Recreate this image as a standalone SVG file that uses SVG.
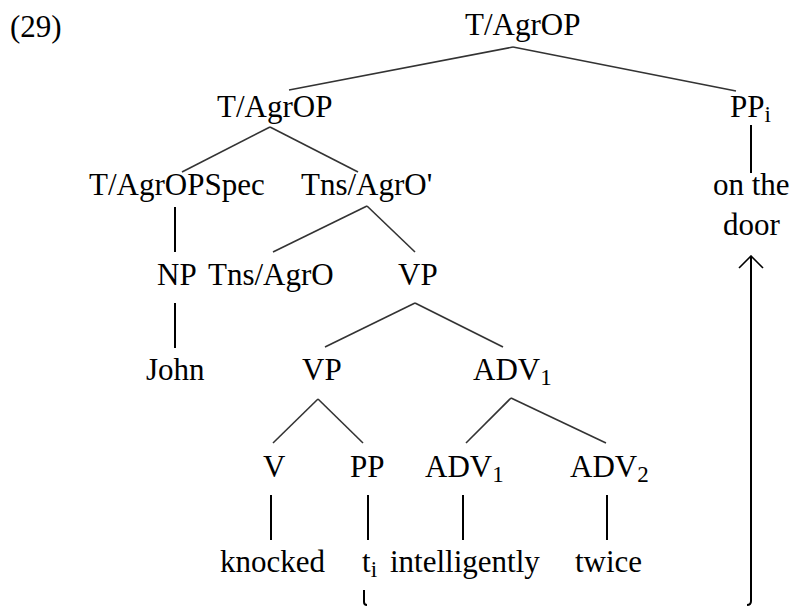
<svg xmlns="http://www.w3.org/2000/svg" width="793" height="607" viewBox="0 0 793 607">
<style>
  text { font-family: "Liberation Serif", "Times New Roman", serif; font-size: 31px; fill: #000; }
  .sub { font-size: 23px; }
  .edge { stroke: #333; stroke-width: 1.6; fill: none; }
  .vert { stroke: #000; stroke-width: 2; fill: none; }
  .move { stroke: #000; stroke-width: 2; fill: none; }
</style>
<defs>
  <marker id="arrow" viewBox="0 0 14 26" refX="13" refY="13" markerWidth="14" markerHeight="26" markerUnits="userSpaceOnUse" orient="auto">
    <path d="M1,1 L13,13 L1,25" fill="none" stroke="#000" stroke-width="1.6"/>
  </marker>
</defs>
<rect width="793" height="607" fill="#fff"/>
<text id="example-number" x="10" y="37">(29)</text>

<g id="connectors">
  <path class="edge" d="M513,47 L289,90"/>
  <path class="edge" d="M513,47 L736,91"/>
  <path class="edge" d="M270,127 L182,172"/>
  <path class="edge" d="M270,127 L358,172"/>
  <path class="vert" d="M751,125 V173"/>
  <path class="vert" d="M175,207 V252"/>
  <path class="edge" d="M367,206 L273,252"/>
  <path class="edge" d="M367,206 L415,252"/>
  <path class="vert" d="M175,303 V348"/>
  <path class="edge" d="M415,303 L325,347"/>
  <path class="edge" d="M415,303 L503,347"/>
  <path class="edge" d="M318,399 L273,443"/>
  <path class="edge" d="M318,399 L363,443"/>
  <path class="edge" d="M511,398 L466,443"/>
  <path class="edge" d="M511,398 L606,443"/>
  <path class="vert" d="M271,495 V540"/>
  <path class="vert" d="M368,495 V540"/>
  <path class="vert" d="M463,495 V540"/>
  <path class="vert" d="M607,495 V540"/>
  <path class="move" d="M364,590 V602 Q364,605 367,605"/>
  <path class="move" d="M747,605 Q751,605 751,601 V256" marker-end="url(#arrow)"/>
</g>

<g id="n-root"><text x="465" y="35">T/AgrOP</text></g>
<g id="n-tagrop"><text x="217" y="117">T/AgrOP</text></g>
<g id="n-ppi"><text x="730" y="117">PP<tspan class="sub" dy="5">i</tspan></text></g>
<g id="n-spec"><text x="89" y="195">T/AgrOPSpec</text></g>
<g id="n-tnsbar"><text x="301" y="195">Tns/AgrO'</text></g>
<g id="n-onthe"><text x="713" y="195">on the</text></g>
<g id="n-door"><text x="723" y="235">door</text></g>
<g id="n-np"><text x="157" y="285">NP</text></g>
<g id="n-tns"><text x="208" y="285">Tns/AgrO</text></g>
<g id="n-vp1"><text x="398" y="285">VP</text></g>
<g id="n-john"><text x="146" y="380">John</text></g>
<g id="n-vp2"><text x="302" y="380">VP</text></g>
<g id="n-adv1a"><text x="473" y="380">ADV<tspan class="sub" dy="5">1</tspan></text></g>
<g id="n-v"><text x="263" y="477">V</text></g>
<g id="n-pp"><text x="350" y="477">PP</text></g>
<g id="n-adv1b"><text x="425" y="477">ADV<tspan class="sub" dy="5">1</tspan></text></g>
<g id="n-adv2"><text x="570" y="477">ADV<tspan class="sub" dy="5">2</tspan></text></g>
<g id="n-knocked"><text x="220" y="572">knocked</text></g>
<g id="n-ti"><text x="362" y="572">t<tspan class="sub" dy="5">i</tspan></text></g>
<g id="n-intelligently"><text x="390" y="572">intelligently</text></g>
<g id="n-twice"><text x="575" y="572">twice</text></g>
</svg>
